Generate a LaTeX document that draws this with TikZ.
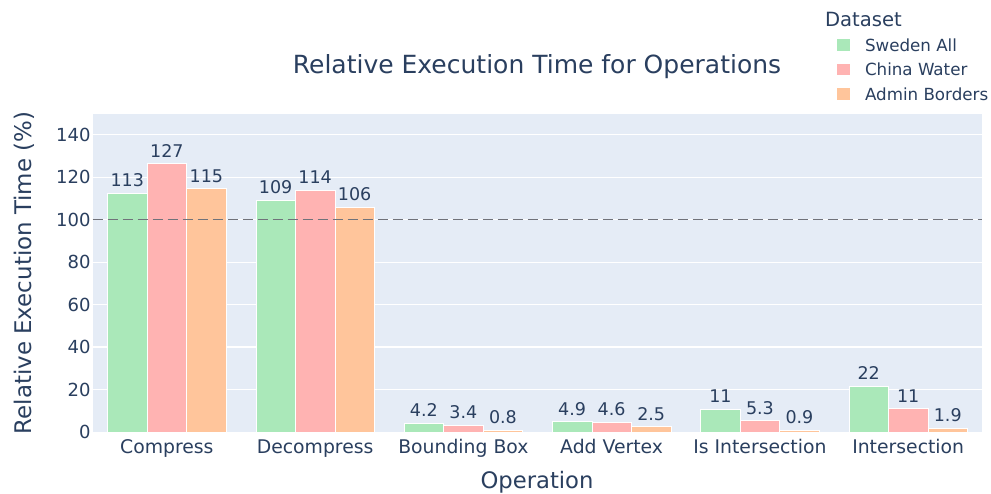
\documentclass[tikz,border=0pt]{standalone}
\usepackage{fontspec}
\setmainfont{DejaVu Sans}
\definecolor{txt}{RGB}{42,63,95}
\definecolor{plotbg}{RGB}{229,236,246}
\definecolor{cgreen}{RGB}{170,232,185}
\definecolor{cred}{RGB}{255,179,178}
\definecolor{corange}{RGB}{255,197,155}
\definecolor{dashgray}{RGB}{112,114,122}
\newcommand\mybargroup[8]{%
  \pgfmathsetmacro\cx{92.7+148.27*(#1+0.5)}%
  \node[xtick] (xt#1) at (\cx,453.5) {#2};
  \mybar{#1}{0}{#3}{#6}{cgreen}
  \mybar{#1}{1}{#4}{#7}{cred}
  \mybar{#1}{2}{#5}{#8}{corange}
}
\newcommand\mybar[5]{%
  \pgfmathsetmacro\bl{92.7+148.27*#1+14.83+39.54*#2}%
  \pgfmathsetmacro\br{\bl+39.54}%
  \pgfmathsetmacro\bt{432-2.124*#3}%
  \pgfmathsetmacro\bm{\bl+19.77}%
  \filldraw[fill=#5,draw=white,line width=0.5pt] (\bl,432) rectangle (\br,\bt);
  \node[barlab] (lab#1-#2) at (\bm,\bt-6.5) {#4};
}
\begin{document}
\begin{tikzpicture}[x=1pt,y=-1pt,
  every node/.style={text=txt,inner sep=0pt,outer sep=0pt},
  ytick/.style={anchor=east,font=\fontsize{18}{20}\selectfont},
  xtick/.style={anchor=base,font=\fontsize{18.8}{22}\selectfont},
  barlab/.style={anchor=base,font=\fontsize{17.5}{20}\selectfont},
  legtext/.style={anchor=base west,font=\fontsize{16.7}{19}\selectfont},
  dashline/.style={draw=dashgray,line width=1.7pt,dash pattern=on 10pt off 5pt}]
\fill[white] (0,0) rectangle (991,494);
\useasboundingbox (0,0) rectangle (991,494);
% plot area
\fill[plotbg] (92.7,114) rectangle (982.3,432);
\foreach \v in {20,40,...,140}
  \draw[white,line width=1.1pt] (92.7,{432-2.124*\v}) -- (982.3,{432-2.124*\v});
\foreach \v in {0,20,...,140}
  \node[ytick] (yt\v) at (90.5,{432-2.124*\v}) {\v};
% bars
\mybargroup{0}{Compress}{112.4}{126.4}{114.6}{113}{127}{115}
\mybargroup{1}{Decompress}{109}{114}{105.8}{109}{114}{106}
\mybargroup{2}{Bounding Box}{4.2}{3.4}{0.8}{4.2}{3.4}{0.8}
\mybargroup{3}{Add Vertex}{4.9}{4.6}{2.5}{4.9}{4.6}{2.5}
\mybargroup{4}{Is Intersection}{10.6}{5.3}{0.9}{11}{5.3}{0.9}
\mybargroup{5}{Intersection}{21.5}{11}{1.9}{22}{11}{1.9}
% reference line
\coordinate (refL) at (92.7,219.6);
\coordinate (refR) at (982.3,219.6);
\draw[dashline] (refL) -- (refR);
% titles
\node[anchor=base,font=\fontsize{25}{28}\selectfont] (title) at (537,74) {Relative Execution Time for Operations};
\node[anchor=base,font=\fontsize{22.7}{26}\selectfont] (xtitle) at (537,488.3) {Operation};
\node[anchor=base,rotate=90,font=\fontsize{22.9}{26}\selectfont] (ytitle) at (31.7,273) {Relative Execution Time (\%)};
% legend
\node[anchor=base west,font=\fontsize{19.6}{22}\selectfont] (legtitle) at (825,26.7) {Dataset};
\fill[cgreen] (836.7,39.5) rectangle (849.7,51);
\node[legtext] (leg1) at (865,51.7) {Sweden All};
\fill[cred] (836.7,63.8) rectangle (849.7,75.3);
\node[legtext] (leg2) at (865,76) {China Water};
\fill[corange] (836.7,88.5) rectangle (849.7,100);
\node[legtext] (leg3) at (865,100.7) {Admin Borders};
\end{tikzpicture}
\end{document}
